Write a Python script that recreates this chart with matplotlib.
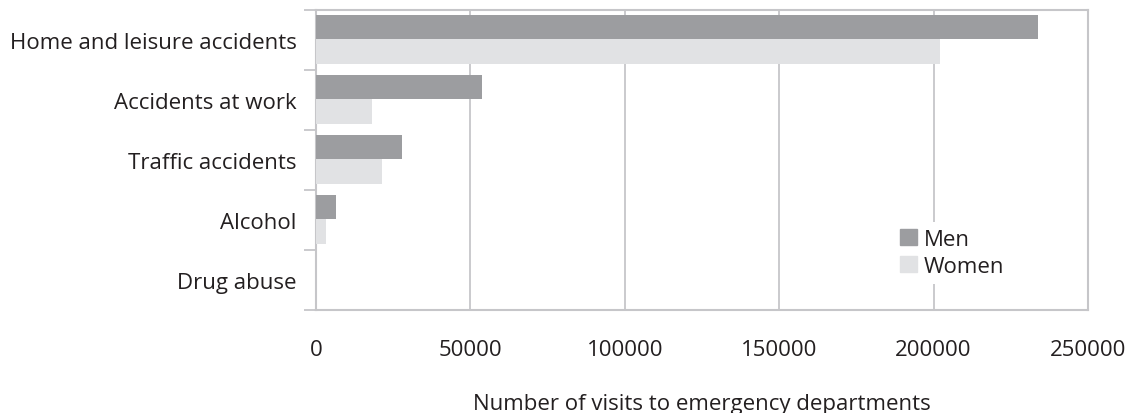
import matplotlib
matplotlib.use("Agg")
import matplotlib.pyplot as plt
from matplotlib.patches import Patch
import numpy as np

categories = ["Home and leisure accidents", "Accidents at work", "Traffic accidents", "Alcohol", "Drug abuse"]
men = [233700, 53800, 27800, 6400, 0]
women = [202000, 18100, 21400, 3100, 0]
xticks = [0, 50000, 100000, 150000, 200000, 250000]

plt.rcParams['font.family'] = ['Open Sans', 'DejaVu Sans']
c_men = "#9c9da0"
c_women = "#e1e2e4"
c_grid = "#c6c6c9"
c_text = "#231f20"
fs = 16

fig = plt.figure(figsize=(11.34, 4.14), dpi=100)
ax = fig.add_axes([316/1134, 1-311/414, (1088-316)/1134, 300/414])

y = np.arange(len(categories))
h = 0.41
ax.barh(y - h/2 - 0.015, men, height=h, color=c_men, zorder=3, label="Men")
ax.barh(y + h/2 - 0.015, women, height=h, color=c_women, zorder=3, label="Women")

ax.set_ylim(len(categories) - 0.5, -0.5)
ax.set_xlim(0, 250000)
ax.set_xticks(xticks)
ax.set_xticklabels([str(v) for v in xticks])
ax.set_yticks(y)
ax.set_yticklabels(categories)
ax.set_yticks(np.arange(len(categories) + 1) - 0.5, minor=True)

ax.tick_params(axis='y', which='major', length=0, pad=14, labelsize=fs, colors=c_text)
ax.tick_params(axis='y', which='minor', length=9, width=1.3, color=c_grid)
ax.tick_params(axis='x', length=0, pad=21, labelsize=fs, colors=c_text)
ax.grid(axis='x', color=c_grid, linewidth=1.3, zorder=0)
for s in ax.spines.values():
    s.set_color(c_grid)
    s.set_linewidth(1.5)

ax.set_xlabel("Number of visits to emergency departments", fontsize=fs, color=c_text, labelpad=24)

handles = [Patch(color=c_men, label="Men"), Patch(color=c_women, label="Women")]
leg = ax.legend(handles=handles, loc='upper left', bbox_to_anchor=(0.748, 0.293),
                frameon=True, fontsize=fs, handlelength=0.75, handleheight=0.75,
                handletextpad=0.3, labelspacing=0.28, borderpad=0.3, borderaxespad=0,
                fancybox=False)
leg.get_frame().set_edgecolor('none')
leg.get_frame().set_facecolor('white')
leg.get_frame().set_alpha(1)
for t in leg.get_texts():
    t.set_color(c_text)

fig.savefig("out.png", dpi=100)
